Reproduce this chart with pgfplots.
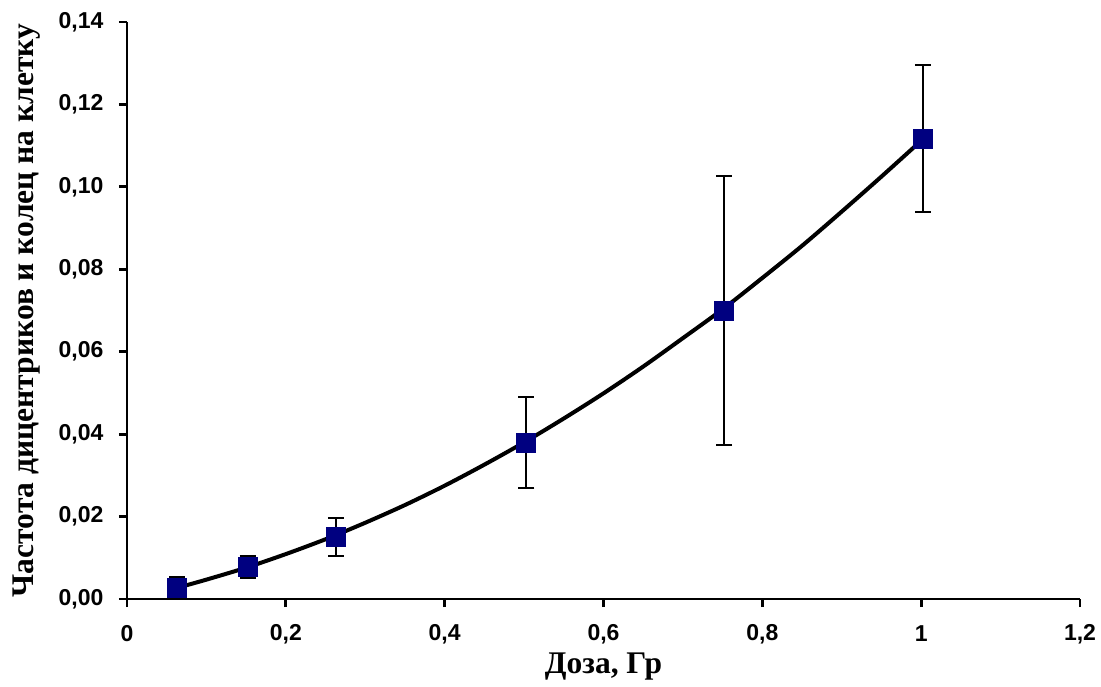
\documentclass[border=0pt]{standalone}
\usepackage{fontspec}
\setmainfont{Liberation Serif}
\newfontfamily\arialb{Liberation Sans}
\usepackage{pgfplots}
\pgfplotsset{compat=1.18}
\definecolor{navyb}{RGB}{0,0,128}
\begin{document}
\begin{tikzpicture}
\begin{axis}[
  name=ax,
  scale only axis,
  width=953pt, height=577pt,
  xmin=0, xmax=1.2, ymin=0, ymax=0.14,
  axis lines*=left,
  axis line style={line width=2.8pt},
  xtick={0,0.2,0.4,0.6,0.8,1,1.2},
  xticklabels={0,{0,2},{0,4},{0,6},{0,8},1,{1,2}},
  ytick={0,0.02,0.04,0.06,0.08,0.10,0.12,0.14},
  yticklabels={{0,00},{0,02},{0,04},{0,06},{0,08},{0,10},{0,12},{0,14}},
  tick align=outside,
  major tick length=8pt,
  tick style={line width=2.8pt, black},
  ticklabel style={font=\arialb\bfseries\fontsize{23}{25}\selectfont},
  xticklabel style={anchor=center, yshift=-27pt},
  yticklabel style={anchor=east, xshift=-12pt},
  xlabel={Доза, Гр},
  ylabel={Частота дицентриков и колец на клетку},
  label style={font=\bfseries\fontsize{31.5}{34}\selectfont},
  xlabel style={at={(axis description cs:0.5,-0.117)}, anchor=center},
  ylabel style={at={(axis description cs:-0.105,0.5)}, anchor=center},
  clip=false,
]
\addplot[black, line width=4pt, smooth] coordinates {
(0.063,0.0027) (0.1,0.0047) (0.15,0.0076) (0.2,0.0109) (0.25,0.0145) (0.3,0.0185)
(0.35,0.0228) (0.4,0.0275) (0.45,0.0326) (0.5,0.0380) (0.55,0.0438) (0.6,0.0499)
(0.65,0.0564) (0.7,0.0633) (0.75,0.0703) (0.8,0.0779) (0.85,0.0857) (0.9,0.0940)
(0.95,0.1025) (1.0,0.1112)
};
\addplot[only marks, mark=square*, mark size=9.5pt, mark options={fill=navyb, draw=navyb, line width=0pt},
  error bars/.cd, y dir=both, y explicit,
  error bar style={line width=2pt, black},
  error mark options={rotate=90, mark size=8pt, line width=2pt, black}]
coordinates {
(0.063,0.0027) +- (0,0.0026)
(0.152,0.0078) +- (0,0.0026)
(0.263,0.0150) +- (0,0.0046)
(0.503,0.0379) +- (0,0.0110)
(0.752,0.0700) +- (0,0.0326)
(1.002,0.1117) +- (0,0.0178)
};
\end{axis}
\pgfresetboundingbox
\path ([xshift=-127pt,yshift=-87pt]ax.south west) rectangle ([xshift=21pt,yshift=22pt]ax.north east);
\end{tikzpicture}
\end{document}
